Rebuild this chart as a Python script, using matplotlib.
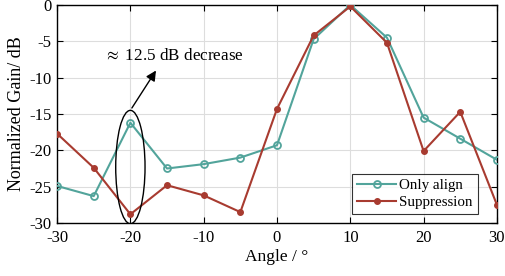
import matplotlib
matplotlib.use("Agg")
import matplotlib.pyplot as plt
from matplotlib.patches import Ellipse

plt.rcParams['font.family'] = ['Liberation Serif', 'DejaVu Serif']
plt.rcParams['mathtext.fontset'] = 'stix'

angles = [-30, -25, -20, -15, -10, -5, 0, 5, 10, 15, 20, 25, 30]
only_align = [-24.9, -26.3, -16.2, -22.5, -21.9, -21.0, -19.3, -4.7, 0.0, -4.5, -15.5, -18.4, -21.3]
suppression = [-17.7, -22.4, -28.8, -24.8, -26.2, -28.5, -14.3, -4.2, -0.2, -5.2, -20.1, -14.7, -27.5]
xticks = [-30, -20, -10, 0, 10, 20, 30]
yticks = [0, -5, -10, -15, -20, -25, -30]

teal = '#52a49b'
red = '#a83b30'

fig = plt.figure(figsize=(5.05, 2.76), dpi=100)
ax = fig.add_axes([0.113, 0.192, 0.871, 0.790])
ax.plot(angles, only_align, color=teal, lw=1.5, marker='o', ms=5,
        mfc='none', mew=1.3, label='Only align', zorder=3)
ax.plot(angles, suppression, color=red, lw=1.5, marker='o', ms=4,
        mfc=red, mec=red, label='Suppression', zorder=3)

ax.set_xlim(-30, 30)
ax.set_ylim(-30, 0)
ax.set_xticks(xticks)
ax.set_yticks(yticks)
ax.set_xticklabels([str(t) for t in xticks])
ax.set_yticklabels([str(t) for t in yticks])
ax.grid(True, color='#dddddd', lw=0.8)
ax.set_axisbelow(True)
ax.tick_params(direction='in', labelsize=12, length=4, top=True, right=True, width=0.8)
ax.tick_params(axis='x', pad=5)
ax.tick_params(axis='y', pad=4)
for s in ax.spines.values():
    s.set_linewidth(1.0)
ax.set_xlabel('Angle / °', fontsize=12.5, labelpad=2)
ax.set_ylabel('Normalized Gain/ dB', fontsize=13, labelpad=3)

ell = Ellipse((-20, -22.3), 4.0, 15.6, fill=False, edgecolor='black', lw=1.0, zorder=4)
ax.add_patch(ell)
ax.annotate('', xy=(-16.3, -8.7), xytext=(-20, -14.5),
            arrowprops=dict(arrowstyle='-|>,head_length=0.6,head_width=0.3', color='black', lw=1.0))
ax.text(-14.0, -7.0, '$\\approx$ 12.5 dB decrease', ha='center', va='center', fontsize=12.3)

leg = ax.legend(loc='lower right', bbox_to_anchor=(0.957, 0.041), fontsize=10.8, frameon=True,
                fancybox=False, edgecolor='black', borderpad=0.35, handlelength=2.6,
                handletextpad=0.2, labelspacing=0.2, borderaxespad=0.0)
leg.get_frame().set_linewidth(0.8)

fig.savefig('out.png', dpi=100)
